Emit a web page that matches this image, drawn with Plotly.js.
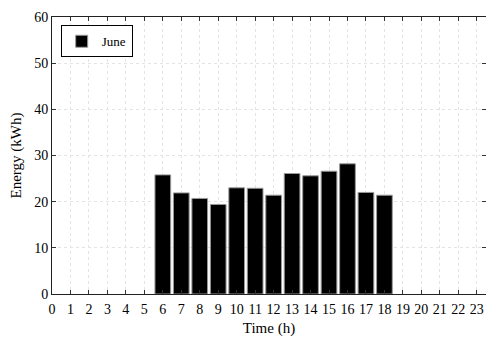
<!DOCTYPE html>
<html><head><meta charset="utf-8">
<script src="https://cdn.plot.ly/plotly-3.0.1.min.js"></script>
<style>html,body{margin:0;padding:0;background:#fff;}#chart{width:486px;height:340px;}</style>
</head><body><div id="chart"></div>
<script>
var hours = [6,7,8,9,10,11,12,13,14,15,16,17,18];
var energy = [25.8,21.9,20.7,19.4,23.0,22.9,21.4,26.1,25.6,26.6,28.2,22.0,21.4];
var xTicks = [0,1,2,3,4,5,6,7,8,9,10,11,12,13,14,15,16,17,18,19,20,21,22,23];
var yTicks = [0,10,20,30,40,50,60];
var seriesName = 'June';

var fam = 'Liberation Serif';
var fnt = {family:fam, size:14, color:'#000'};
Plotly.newPlot('chart', [{
  type:'bar', x:hours, y:energy, name:seriesName, width:0.85,
  marker:{color:'#000', line:{color:'#999', width:1}}
}], {
  width:486, height:340,
  margin:{l:52, r:0, t:17, b:46},
  paper_bgcolor:'#fff', plot_bgcolor:'#fff',
  font:fnt,
  showlegend:true,
  legend:{x:0.02, y:0.97, xanchor:'left', yanchor:'top', bordercolor:'#000', borderwidth:1, bgcolor:'#fff',
    font:{family:fam, size:13, color:'#000'}, itemwidth:30, tracegroupgap:0},
  xaxis:{range:[0,23.5], tickmode:'array', tickvals:xTicks, ticktext:xTicks.map(String),
    ticks:'inside', ticklen:4, tickcolor:'#333', showline:true, linecolor:'#222', linewidth:1, mirror:'ticks',
    showgrid:true, gridcolor:'#e4e4e4', griddash:'dot', zeroline:false, ticklabelstandoff:2,
    title:{text:'Time (h)', font:{family:fam, size:15}, standoff:6}, tickfont:fnt},
  yaxis:{range:[0,60], tickmode:'array', tickvals:yTicks,
    ticks:'inside', ticklen:4, tickcolor:'#333', showline:true, linecolor:'#222', linewidth:1, mirror:'ticks',
    showgrid:true, gridcolor:'#e4e4e4', griddash:'dot', zeroline:false,
    title:{text:'Energy (kWh)', font:{family:fam, size:15}, standoff:8}, tickfont:fnt},
  bargap:0.15
}, {displayModeBar:false, staticPlot:true});
</script></body></html>
